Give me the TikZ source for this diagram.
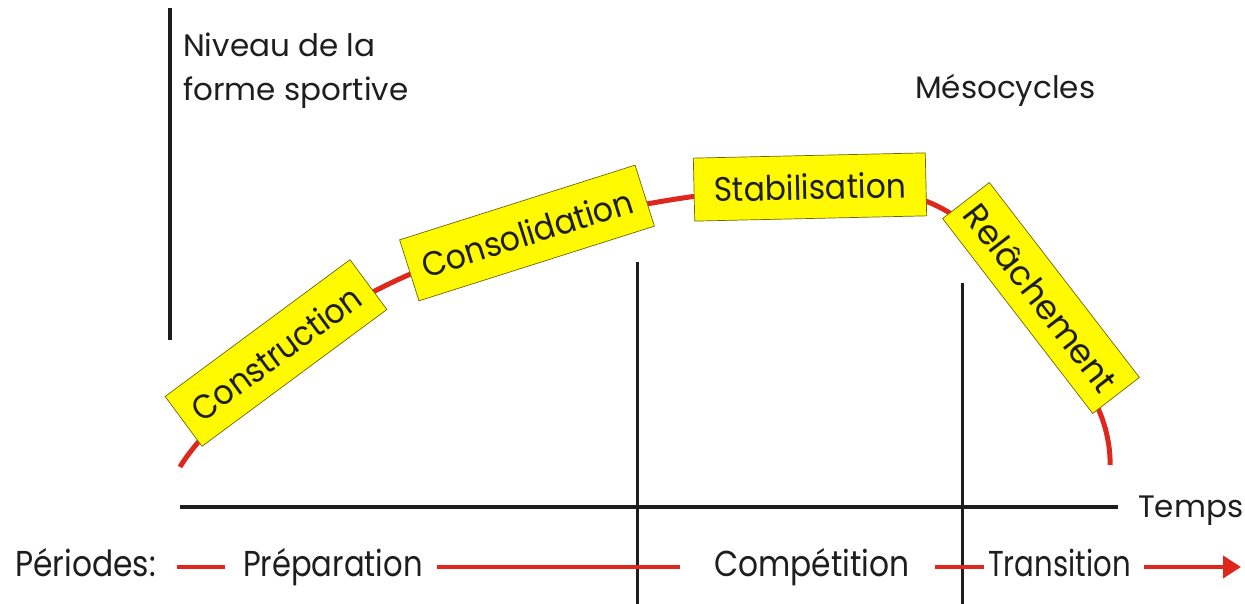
\documentclass[tikz,border=0pt]{standalone}
\usepackage{fontspec}
\setmainfont{Poppins}
\usetikzlibrary{arrows.meta}
\definecolor{curvered}{RGB}{222,40,30}
\definecolor{boxyellow}{RGB}{255,250,0}
\definecolor{boxline}{RGB}{110,100,20}
\definecolor{axisblack}{RGB}{30,30,30}
\newcommand{\narrow}[2]{\scalebox{#1}[1]{#2}}
\tikzset{
  lbl/.style={anchor=base west, inner sep=0pt, font=\fontsize{31}{36}\selectfont, text=axisblack},
  blbl/.style={anchor=base west, inner sep=0pt, font=\fontsize{36}{42}\selectfont, text=axisblack},
  meso/.style={draw=boxline, line width=0.7pt, fill=boxyellow, inner sep=0pt,
    font=\fontsize{34}{40}\selectfont, text=axisblack},
  axisline/.style={draw=axisblack, line width=3.6pt},
  redline/.style={draw=curvered, line width=4pt},
}
\begin{document}
\begin{tikzpicture}[x=1pt,y=1pt]
\useasboundingbox (0,0) rectangle (1245,604);
% axes
\coordinate (yaxTop) at (170,596);
\coordinate (yaxBot) at (170,264);
\draw[axisline] (yaxTop) -- (yaxBot);
\coordinate (taxL) at (180,97);
\coordinate (taxR) at (1118,97);
\draw[axisline] (taxL) -- (taxR);
\coordinate (div1Top) at (637,342);
\coordinate (div1Bot) at (637,0);
\coordinate (div2Top) at (962,321);
\coordinate (div2Bot) at (962,0);
\draw[axisline, line width=3pt] (div1Top) -- (div1Bot);
\draw[axisline, line width=3pt] (div2Top) -- (div2Bot);
% curve
\draw[redline, line width=5pt, line cap=butt] plot[smooth, tension=0.6] coordinates
  {(180,137) (200,164) (276,251) (393,322) (527,371) (670,404) (808,416) (935,399) (1041,306) (1100,191) (1110,139)};
% mesocycle boxes
\node[meso, minimum width=230pt, minimum height=62pt, rotate=36.5] (constr) at (276,251) {\narrow{0.92}{Construction}};
\node[meso, minimum width=247pt, minimum height=64pt, rotate=17.6] (consol) at (527,371) {\narrow{0.93}{Consolidation}};
\node[meso, minimum width=232pt, minimum height=63pt, rotate=1.3] (stab) at (810,417) {\narrow{0.92}{Stabilisation}};
\node[meso, minimum width=246pt, minimum height=59pt, rotate=-52.4] (relach) at (1041,306) {\narrow{1.0}{Relâchement}};
% labels
\node[lbl] (niv1) at (183,547) {Niveau de la};
\node[lbl] (niv2) at (183,503) {forme sportive};
\node[lbl] (meso) at (915,505) {Mésocycles};
\node[lbl] (temps) at (1138,86) {Temps};
\node[blbl] (per) at (15,27) {\narrow{0.87}{Périodes:}};
\node[blbl] (prep) at (243,27) {\narrow{0.85}{Préparation}};
\node[blbl] (comp) at (714,27) {\narrow{0.87}{Compétition}};
\node[blbl] (trans) at (988,27) {\narrow{0.81}{Transition}};
% period red lines
\coordinate (r1a) at (177,37); \coordinate (r1b) at (225,37);
\coordinate (r2a) at (437,37); \coordinate (r2b) at (680,37);
\coordinate (r3a) at (935,37); \coordinate (r3b) at (984,37);
\coordinate (r4a) at (1144,37); \coordinate (r4b) at (1241,37);
\draw[redline] (r1a) -- (r1b);
\draw[redline] (r2a) -- (r2b);
\draw[redline] (r3a) -- (r3b);
\draw[redline, -{Triangle[length=18pt,width=22pt]}] (r4a) -- (r4b);
\end{tikzpicture}
\end{document}
